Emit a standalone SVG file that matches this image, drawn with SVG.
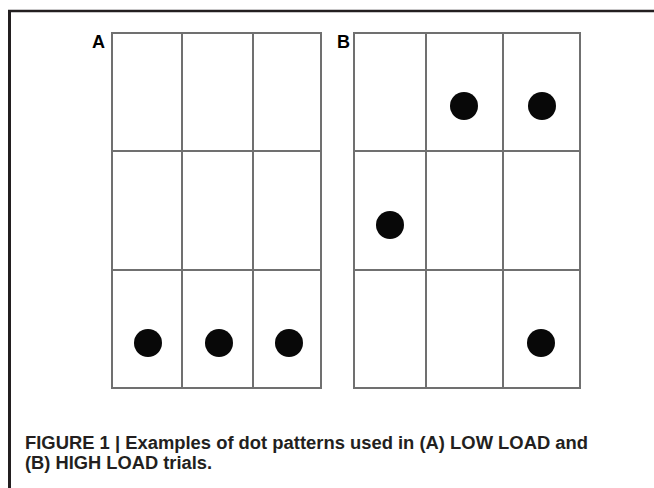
<svg xmlns="http://www.w3.org/2000/svg" width="654" height="488" viewBox="0 0 654 488">
<style>
.frame{stroke:#231f20;fill:none}
.grid{stroke:#707070;stroke-width:2;fill:none}
.dot{fill:#080808}
.lbl{font-family:"Liberation Sans",Arial,sans-serif;font-weight:bold;font-size:18px;fill:#000}
.cap{font-family:"Liberation Sans",Arial,sans-serif;font-weight:bold;font-size:18px;fill:#231f20}
</style>
<rect width="654" height="488" fill="#fff"/>
<g id="frame">
<line class="frame" x1="9.5" y1="10" x2="9.5" y2="488" stroke-width="3"/>
<line class="frame" x1="8" y1="11" x2="654" y2="11" stroke-width="2.5"/>
</g>
<g id="panelA">
<text class="lbl" x="92" y="48">A</text>
<rect class="grid" x="112" y="33" width="209" height="355"/>
<line class="grid" x1="182" y1="33" x2="182" y2="388"/>
<line class="grid" x1="253" y1="33" x2="253" y2="388"/>
<line class="grid" x1="112" y1="151" x2="321" y2="151"/>
<line class="grid" x1="112" y1="270" x2="321" y2="270"/>
<circle class="dot" cx="148" cy="343" r="14"/>
<circle class="dot" cx="219" cy="343" r="14"/>
<circle class="dot" cx="289" cy="343" r="14"/>
</g>
<g id="panelB">
<text class="lbl" x="337" y="48">B</text>
<rect class="grid" x="354" y="33" width="226" height="355"/>
<line class="grid" x1="426" y1="33" x2="426" y2="388"/>
<line class="grid" x1="503" y1="33" x2="503" y2="388"/>
<line class="grid" x1="354" y1="151" x2="580" y2="151"/>
<line class="grid" x1="354" y1="270" x2="580" y2="270"/>
<circle class="dot" cx="464" cy="106" r="14"/>
<circle class="dot" cx="542" cy="106" r="14"/>
<circle class="dot" cx="390" cy="225" r="14"/>
<circle class="dot" cx="541" cy="343" r="14"/>
</g>
<g id="caption">
<text class="cap" x="25" y="449" textLength="563" lengthAdjust="spacingAndGlyphs">FIGURE 1 | Examples of dot patterns used in (A) LOW LOAD and</text>
<text class="cap" x="25" y="469" textLength="187" lengthAdjust="spacingAndGlyphs">(B) HIGH LOAD trials.</text>
</g>
</svg>
